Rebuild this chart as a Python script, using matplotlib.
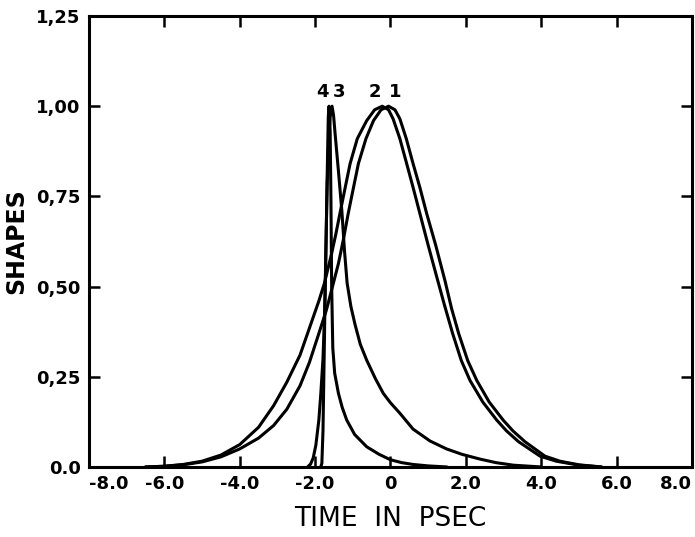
import matplotlib
matplotlib.use('Agg')
import matplotlib.pyplot as plt

# Curve values (time in psec, normalised shape)
t1 = [-6.5, -6.0, -5.5, -5.0, -4.5, -4.0, -3.5, -3.1, -2.75, -2.4, -2.15, -1.9, -1.7, -1.55, -1.38,
      -1.25, -1.12, -0.98, -0.85, -0.65, -0.45, -0.25, -0.05, 0.12, 0.25, 0.42, 0.6, 0.78, 0.96,
      1.2, 1.45, 1.62, 1.81, 2.05, 2.29, 2.62, 2.99, 3.25, 3.57, 4.1, 4.5, 5.0, 5.6]
s1 = [0.0, 0.002, 0.006, 0.014, 0.028, 0.05, 0.08, 0.115, 0.16, 0.225, 0.29, 0.37, 0.435, 0.495, 0.564,
      0.63, 0.703, 0.775, 0.841, 0.91, 0.96, 0.99, 1.0, 0.99, 0.965, 0.91, 0.841, 0.775, 0.703,
      0.615, 0.515, 0.44, 0.37, 0.295, 0.24, 0.18, 0.13, 0.10, 0.07, 0.03, 0.016, 0.006, 0.0]

t2 = [-6.5, -6.0, -5.5, -5.0, -4.5, -4.0, -3.5, -3.1, -2.75, -2.4, -2.1, -1.9, -1.75, -1.56, -1.45,
      -1.34, -1.2, -1.07, -0.88, -0.63, -0.42, -0.22, -0.05, 0.07, 0.25, 0.43, 0.6, 0.78, 1.0,
      1.22, 1.43, 1.65, 1.88, 2.11, 2.45, 2.82, 3.08, 3.4, 3.97, 4.4, 5.0, 5.6]
s2 = [0.0, 0.002, 0.007, 0.016, 0.033, 0.062, 0.11, 0.17, 0.235, 0.31, 0.40, 0.46, 0.51, 0.592, 0.645,
      0.703, 0.775, 0.841, 0.91, 0.96, 0.99, 1.0, 0.99, 0.965, 0.91, 0.841, 0.775, 0.703, 0.615,
      0.53, 0.45, 0.37, 0.295, 0.24, 0.18, 0.13, 0.10, 0.07, 0.03, 0.016, 0.005, 0.0]

t3 = [-1.85, -1.82, -1.79, -1.76, -1.72, -1.68, -1.64, -1.6, -1.55, -1.51, -1.47, -1.38, -1.29,
      -1.22, -1.15, -1.05, -0.94, -0.8, -0.63, -0.4, -0.19, 0.0, 0.25, 0.6, 1.05, 1.49, 1.9,
      2.37, 2.8, 3.26, 4.0]
s3 = [0.0, 0.01, 0.1, 0.3, 0.57, 0.78, 0.9, 0.97, 1.0, 0.975, 0.925, 0.82, 0.71,
      0.6, 0.51, 0.445, 0.395, 0.34, 0.296, 0.245, 0.204, 0.178, 0.149, 0.105, 0.072, 0.05, 0.035,
      0.022, 0.012, 0.005, 0.0]

t4 = [-2.2, -2.12, -2.05, -1.98, -1.9, -1.85, -1.79, -1.75, -1.72, -1.68, -1.65, -1.63, -1.6,
      -1.58, -1.56, -1.53, -1.48, -1.38, -1.28, -1.16, -0.95, -0.63, -0.3, 0.0, 0.3, 0.6, 1.0, 1.5]
s4 = [0.0, 0.008, 0.025, 0.06, 0.13, 0.2, 0.3, 0.42, 0.55, 0.8, 0.97, 1.0, 0.93,
      0.75, 0.5, 0.33, 0.26, 0.204, 0.165, 0.13, 0.09, 0.056, 0.035, 0.02, 0.012, 0.007, 0.003, 0.0]

curve_labels = ['4', '3', '2', '1']
label_x = [-1.81, -1.36, -0.41, 0.12]

xticks = [-8, -6, -4, -2, 0, 2, 4, 6, 8]
xtick_labels = ['-8.0', '-6.0', '-4.0', '-2.0', '0', '2.0', '4.0', '6.0', '8.0']
yticks = [0, 0.25, 0.5, 0.75, 1.0, 1.25]
ytick_labels = ['0.0', '0,25', '0,50', '0,75', '1,00', '1,25']

fig = plt.figure(figsize=(6.95, 5.37), dpi=100)
ax = fig.add_axes([0.128, 0.1304, 0.8676, 0.8398])

for t, s in [(t1, s1), (t2, s2), (t3, s3), (t4, s4)]:
    ax.plot(t, s, color='black', lw=2.2, solid_joinstyle='round', solid_capstyle='round')

for lab, lx in zip(curve_labels, label_x):
    ax.text(lx, 1.04, lab, ha='center', va='center', fontsize=13, fontweight='bold')

ax.set_xlim(-8, 8)
ax.set_ylim(0, 1.25)
ax.set_xticks(xticks)
ax.set_xticklabels(xtick_labels)
ax.set_yticks(yticks)
ax.set_yticklabels(ytick_labels)
ax.tick_params(direction='in', length=8, width=1.8, top=True, right=True,
               labelsize=13, pad=6)
for lab in ax.get_xticklabels() + ax.get_yticklabels():
    lab.set_fontweight('bold')
# end labels sit inside the frame, as in the original
xl = ax.get_xticklabels()
xl[0].set_horizontalalignment('left')
xl[-1].set_horizontalalignment('right')
for sp in ax.spines.values():
    sp.set_linewidth(2.2)

ax.set_xlabel('TIME  IN  PSEC', fontsize=19, labelpad=9)
ax.set_ylabel('SHAPES', fontsize=17, fontweight='bold', labelpad=6)

fig.savefig('out.png', dpi=100)
